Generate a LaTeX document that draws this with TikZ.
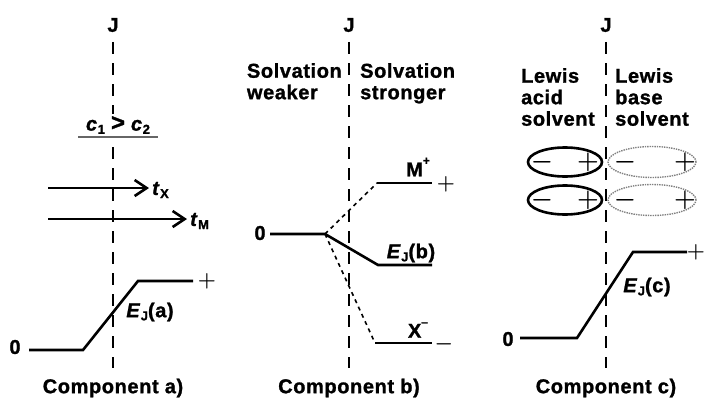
\documentclass[tikz,border=0pt]{standalone}
\usepackage{fontspec}
\setmainfont{Liberation Sans}[LetterSpace=3, BoldFeatures={FakeBold=1.2}, BoldItalicFeatures={FakeBold=1.2}]
\usetikzlibrary{arrows.meta,shapes.geometric}

\newcommand{\lowidx}[1]{\raisebox{-0.3ex}{\fontsize{13}{13}\selectfont #1}}
\newcommand{\highidx}[1]{\raisebox{1.1ex}{\fontsize{12}{12}\selectfont #1}}

\begin{document}
\begin{tikzpicture}[x=1pt,y=-1pt,
  every node/.style={font=\fontsize{20}{21.5}\selectfont\bfseries, inner sep=0pt},
  level/.style={line width=2.6pt},
  junction/.style={line width=2.2pt, dash pattern=on 12pt off 9pt},
  ion/.style={line width=1.6pt, dash pattern=on 4pt off 4pt},
  flux/.style={line width=2.6pt, shorten >=3pt,
    -{Straight Barb[length=12pt,width=16pt,line width=2.6pt]}},
  sign/.style={font=\fontsize{22}{22}\selectfont\boldmath},
  bigsign/.style={font=\fontsize{25}{25}\selectfont\boldmath},
  acid/.style={ellipse, draw, line width=2.6pt, minimum width=74pt, minimum height=29pt},
  base/.style={ellipse, draw=gray, densely dotted, line width=1.4pt, minimum width=88pt, minimum height=31pt}]
  \useasboundingbox (0,0) rectangle (706,404);

  % junction J of each component
  \foreach \p/\x in {a/113,b/349,c/606}{
    \node (J\p) at (\x,25) {J};
    \coordinate (top\p) at (\x,42);
    \coordinate (bot\p) at (\x,368);
    \draw[junction] (top\p) -- (bot\p);
    \node (comp\p) at (\x,388) {Component \p)};
  }

  % component a)
  \node[fill=white, inner sep=2pt] (conc) at (118,125)
    {\textit{c}\lowidx{1}\hspace{6pt}{\fontsize{24}{24}\selectfont\textgreater}\hspace{6pt}\textit{c}\lowidx{2}};
  \coordinate (ul1) at (78,137);
  \coordinate (ul2) at (158,137);
  \draw[line width=1.1pt, gray!80!black] (ul1) -- (ul2);

  \node[anchor=west] (tx) at (152,190) {\textit{t}\lowidx{X}};
  \node[anchor=west] (tm) at (190,221) {\textit{t}\lowidx{M}};
  \coordinate (fx) at (48,188);
  \coordinate (fm) at (48,219);
  \draw[flux] (fx) -- (fx -| tx.west);
  \draw[flux] (fm) -- (fm -| tm.west);

  \node (za) at (15,347) {0};
  \coordinate (a1) at (29,350);
  \coordinate (a2) at (83,350);
  \coordinate (a3) at (138,281);
  \coordinate (a4) at (193,281);
  \draw[level] (a1) -- (a2) -- (a3) -- (a4);
  \node[sign] (pa) at (207,281) {$+$};
  \node (ea) at (150,312) {\textit{E}\lowidx{J}(a)};

  % component b)
  \node[anchor=north east, align=left] (sw) at (342,63) {Solvation\\weaker};
  \node[anchor=north west, align=left] (ss) at (360,63) {Solvation\\stronger};

  \node (zb) at (260,233) {0};
  \coordinate (b1) at (270,234);
  \coordinate (b2) at (325,234);
  \coordinate (b3) at (378,265);
  \coordinate (b4) at (432,265);
  \coordinate (m1) at (377,183);
  \coordinate (m2) at (432,183);
  \coordinate (x1) at (375,343);
  \coordinate (x2) at (432,343);
  \draw[level] (b1) -- (b2) -- (b3) -- (b4);
  \draw[level] (m1) -- (m2);
  \draw[level] (x1) -- (x2);
  \draw[ion] (b2) -- (m1);
  \draw[ion] (b2) -- (x1);

  \node (mp) at (418,167) {M\highidx{+}};
  \node[sign] (pb) at (446,184) {$+$};
  \node (eb) at (411,253) {\textit{E}\lowidx{J}(b)};
  \node (xm) at (418,330) {X\highidx{--}};
  \node[sign] (nb) at (444,344) {$-$};

  % component c)
  \node[anchor=north east, align=left] (la) at (595,68) {Lewis\\acid\\solvent};
  \node[anchor=north west, align=left] (lb) at (615,68) {Lewis\\base\\solvent};

  \foreach \i/\y in {1/162,2/200}{
    \node[acid] (ac\i) at (565,\y) {};
    \node[base] (bs\i) at (652,\y) {};
    \node[bigsign] at (542,\y) {$-$};
    \node[bigsign] at (588,\y) {$+$};
    \node[bigsign] at (625,\y) {$-$};
    \node[bigsign] at (685,\y) {$+$};
  }

  \node (zc) at (508,339) {0};
  \coordinate (c1) at (520,338);
  \coordinate (c2) at (577,338);
  \coordinate (c3) at (633,252);
  \coordinate (c4) at (687,252);
  \draw[level] (c1) -- (c2) -- (c3) -- (c4);
  \node[sign] (pc) at (696,252) {$+$};
  \node (ec) at (647,287) {\textit{E}\lowidx{J}(c)};

\end{tikzpicture}
\end{document}
